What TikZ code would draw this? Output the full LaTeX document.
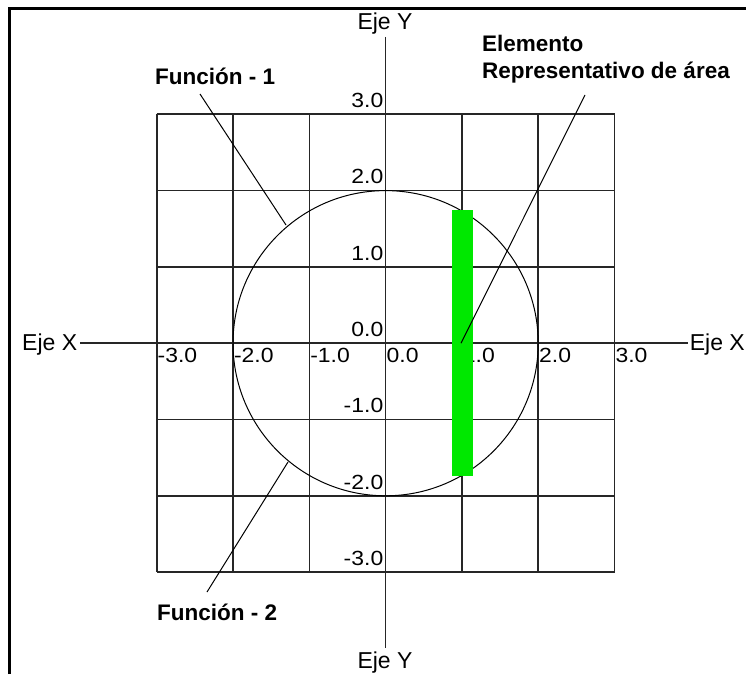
\documentclass[tikz,border=0pt]{standalone}
\usepackage{fontspec}
\setmainfont{Liberation Sans}
\newfontfamily\tickfont[FakeStretch=1.12]{Liberation Sans}
\definecolor{barg}{RGB}{0,232,0}
\begin{document}
\begin{tikzpicture}[x=1pt,y=-1pt,
  gridline/.style={line width=1.6pt,black!85},
  axisline/.style={line width=1.6pt,black!85},
  leader/.style={line width=1pt,black},
  lbl/.style={inner sep=0pt,font=\fontsize{23}{28}\selectfont},
  blbl/.style={inner sep=0pt,font=\fontsize{22.5}{27}\selectfont\bfseries},
  tick/.style={inner sep=0pt,font=\tickfont\fontsize{20.5}{24}\selectfont}]
\useasboundingbox (0,0) rectangle (746,674);
\fill[white] (0,0) rectangle (746,674);
% frame
\draw[line width=3pt] (9,674) -- (9,9) -- (746,9);
% grid
\foreach \k in {0,...,6} {
  \draw[gridline] (156.7+\k*76.3,114.3) -- (156.7+\k*76.3,572.1);
  \draw[gridline] (156.7,114.3+\k*76.3) -- (614.5,114.3+\k*76.3);
}
% axis labels
\node[lbl,anchor=base west] (exl) at (22,350) {Eje X};
\node[lbl,anchor=base east] (exr) at (745,350) {Eje X};
\node[lbl,anchor=base] (eyt) at (385,30) {Eje Y};
\node[lbl,anchor=base] (eyb) at (385,668) {Eje Y};
\coordinate (xa1) at (80,343.2);
\coordinate (xa2) at ([xshift=-2pt]exr.west |- 0,343.2);
\coordinate (ya1) at (385.6,37);
\coordinate (ya2) at (385.6,648);
\draw[axisline] (xa1) -- (xa2);
\draw[axisline] (ya1) -- (ya2);
% circle
\coordinate (c) at (385.6,343.2);
\draw[line width=1pt] (c) circle (152.6);
% x tick labels
\foreach \k/\t in {0/-3.0,1/-2.0,2/-1.0,3/0.0,4/1.0,5/2.0,6/3.0} {
  \node[tick,anchor=base west] (xt\k) at (157.5+\k*76.3,362) {\t};
}
% y tick labels
\foreach \k/\t in {0/3.0,1/2.0,2/1.0,3/0.0,4/-1.0,5/-2.0,6/-3.0} {
  \node[tick,anchor=base east] (yt\k) at (383.5,107.5+\k*76.3) {\t};
}
% green element
\fill[barg] (452,210) rectangle (473,476);
% labels
\node[blbl,anchor=base west] (f1) at (155,85) {Función - 1};
\node[blbl,anchor=base west] (f2) at (157,620) {Función - 2};
\node[blbl,anchor=base west] (el1) at (482,52) {Elemento};
\node[blbl,anchor=base west] (el2) at (482,79) {Representativo de área};
% leaders
\coordinate (f1s) at (200,94);
\coordinate (f1e) at (286,225);
\coordinate (f2s) at (207,592);
\coordinate (f2e) at (288,462);
\coordinate (els) at (585,95);
\coordinate (ele) at (461,343.2);
\draw[leader] (f1s) -- (f1e);
\draw[leader] (f2s) -- (f2e);
\draw[leader] (els) -- (ele);
\end{tikzpicture}
\end{document}
